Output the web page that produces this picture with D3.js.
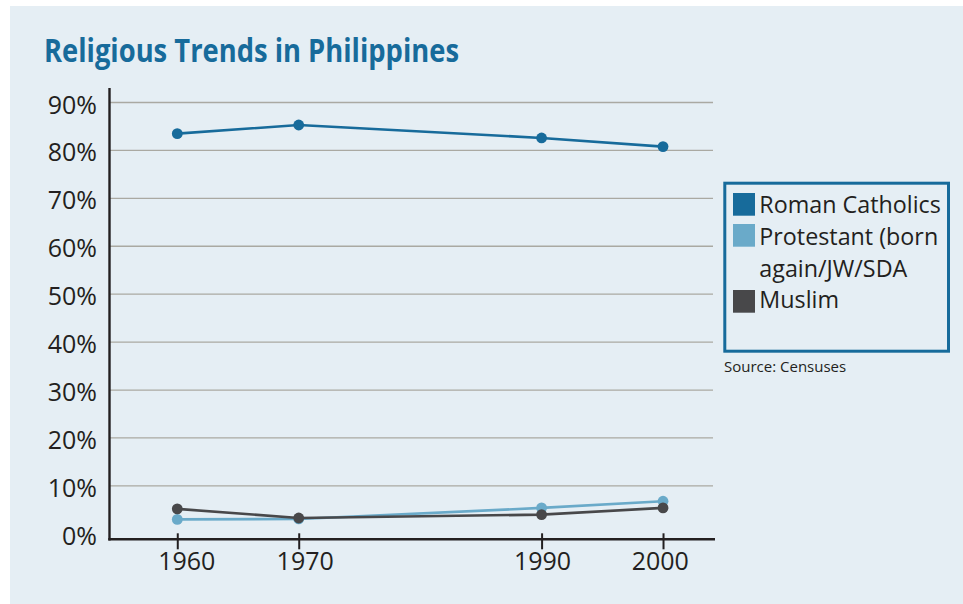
<!DOCTYPE html>
<html>
<head>
<meta charset="utf-8">
<script src="https://cdn.jsdelivr.net/npm/d3@7"></script>
<style>
  html, body { margin: 0; padding: 0; background: #ffffff; }
  svg { display: block; }
</style>
</head>
<body>
<svg id="chart" width="963" height="604"></svg>
<script>
// Census years and share of population (%) by religion
const years = [1960, 1970, 1990, 2000];
const romanCatholics = [83.5, 85.3, 82.6, 80.8];
const protestant = [3.0, 3.1, 5.4, 6.8];
const muslim = [5.2, 3.3, 4.0, 5.4];
const yTicks = [0, 10, 20, 30, 40, 50, 60, 70, 80, 90];
const seriesNames = ["Roman Catholics", "Protestant (born", "Muslim"];

const colors = {
  catholic: "#176b9b",
  protestant: "#6aaac9",
  muslim: "#48484a",
  title: "#176b9b",
  grid: "#aaa9a2",
  axis: "#231f20",
  text: "#231f20",
  panel: "#e5eef4"
};

const series = [
  { name: seriesNames[0], values: romanCatholics, color: colors.catholic },
  { name: seriesNames[1], values: protestant, color: colors.protestant },
  { name: seriesNames[2], values: muslim, color: colors.muslim }
];

const svg = d3.select("#chart");
const font = "'Open Sans', 'Noto Sans', sans-serif";

// panel background
svg.append("rect")
  .attr("x", 10).attr("y", 6)
  .attr("width", 953).attr("height", 598)
  .attr("fill", colors.panel);

// title
const title = svg.append("text")
  .attr("x", 44).attr("y", 61.5)
  .attr("font-family", font)
  .attr("font-weight", 700)
  .attr("font-size", 31.5)
  .attr("fill", colors.title)
  .text("Religious Trends in Philippines");
title.attr("textLength", 415).attr("lengthAdjust", "spacingAndGlyphs");

// scales
const x = d3.scaleLinear().domain([1954.46, 2004.28]).range([110, 715]);
const yBase = -1.15;
const y = d3.scaleLinear().domain([yBase, 90]).range([539.3, 102.5]);

// horizontal gridlines
svg.append("g")
  .selectAll("line")
  .data(yTicks.filter(d => d > 0))
  .join("line")
  .attr("x1", 110).attr("x2", 713)
  .attr("y1", d => y(d)).attr("y2", d => y(d))
  .attr("stroke", colors.grid)
  .attr("stroke-width", 1.3);

// y axis labels
svg.append("g")
  .selectAll("text")
  .data(yTicks)
  .join("text")
  .attr("x", 97)
  .attr("y", d => y(d) + 11)
  .attr("text-anchor", "end")
  .attr("font-family", font)
  .attr("font-size", 25)
  .attr("fill", colors.text)
  .text(d => d + "%");

// y axis line
svg.append("line")
  .attr("x1", 109.5).attr("x2", 109.5)
  .attr("y1", 88).attr("y2", y(yBase) + 1.2)
  .attr("stroke", colors.axis)
  .attr("stroke-width", 2.4);

// x axis with ticks crossing the baseline
const xAxis = d3.axisBottom(x)
  .tickValues(years)
  .tickFormat(d3.format("d"))
  .tickSize(16)
  .tickPadding(6)
  .tickSizeOuter(0);

const gx = svg.append("g")
  .attr("transform", `translate(0,${y(yBase) - 6})`)
  .call(xAxis);
gx.select(".domain").remove();
gx.selectAll(".tick line")
  .attr("stroke", colors.axis)
  .attr("stroke-width", 2);
// slight per-label shifts of the year labels
const labelNudge = [9, 6, 0.4, -3.3];
gx.selectAll(".tick text")
  .attr("font-family", font)
  .attr("font-size", 25)
  .attr("fill", colors.text)
  .attr("y", 0)
  .attr("dy", 0)
  .attr("transform", (d, i) => `translate(${labelNudge[i]},${36.7})`);

svg.append("line")
  .attr("x1", 108.3).attr("x2", 715)
  .attr("y1", y(yBase)).attr("y2", y(yBase))
  .attr("stroke", colors.axis)
  .attr("stroke-width", 2.6);

// series lines and markers (draw Protestant first, Muslim on top of it)
const line = d3.line()
  .x((d, i) => x(years[i]))
  .y(d => y(d));

const drawOrder = [series[1], series[2], series[0]];
drawOrder.forEach(s => {
  svg.append("path")
    .datum(s.values)
    .attr("d", line)
    .attr("fill", "none")
    .attr("stroke", s.color)
    .attr("stroke-width", 2.6);
  svg.append("g")
    .selectAll("circle")
    .data(s.values)
    .join("circle")
    .attr("cx", (d, i) => x(years[i]))
    .attr("cy", d => y(d))
    .attr("r", 5.4)
    .attr("fill", s.color);
});

// legend
svg.append("rect")
  .attr("x", 724.8).attr("y", 183.2)
  .attr("width", 223.7).attr("height", 168)
  .attr("fill", "none")
  .attr("stroke", colors.catholic)
  .attr("stroke-width", 3);

const legendRows = [
  { swatch: colors.catholic, sy: 193, lines: [seriesNames[0]], by: [213.3] },
  { swatch: colors.protestant, sy: 224, lines: [seriesNames[1], "again/JW/SDA"], by: [245, 277.3] },
  { swatch: colors.muslim, sy: 290, lines: [seriesNames[2]], by: [308.3] }
];
legendRows.forEach(r => {
  svg.append("rect")
    .attr("x", 733).attr("y", r.sy)
    .attr("width", 22).attr("height", 22.7)
    .attr("fill", r.swatch);
  r.lines.forEach((t, i) => {
    svg.append("text")
      .attr("x", 759.3).attr("y", r.by[i])
      .attr("font-family", font)
      .attr("font-size", 23.3)
      .attr("fill", colors.text)
      .text(t);
  });
});

// source note
svg.append("text")
  .attr("x", 724).attr("y", 371.7)
  .attr("font-family", font)
  .attr("font-size", 15)
  .attr("fill", colors.text)
  .text("Source: Censuses");
</script>
</body>
</html>
